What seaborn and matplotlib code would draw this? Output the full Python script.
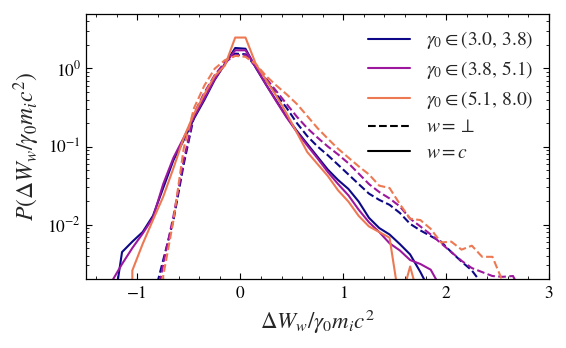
#!/usr/bin/env python3
"""Energy gain distributions for the three gamma_0 bins, perp vs c components"""

import numpy as np
import pandas as pd
import seaborn as sns
import matplotlib.pyplot as plt
from matplotlib.lines import Line2D

###########################################################
# Data
###########################################################

# histogram bin centres, Delta W_w / gamma_0 m_i c^2
bin_centers = [
    -1.35, -1.25, -1.15, -1.05, -0.95, -0.85, -0.75, -0.65, -0.55, -0.45,
    -0.35, -0.25, -0.15, -0.05, 0.05, 0.15, 0.25, 0.35, 0.45, 0.55,
    0.65, 0.75, 0.85, 0.95, 1.05, 1.15, 1.25, 1.35, 1.45, 1.55,
    1.65, 1.75, 1.85, 1.95, 2.05, 2.15, 2.25, 2.35, 2.45, 2.55,
    2.65, 2.75, 2.85,
]

gamma_bins = [r"$\gamma_0 \in (3.0,\, 3.8)$",
              r"$\gamma_0 \in (3.8,\, 5.1)$",
              r"$\gamma_0 \in (5.1,\, 8.0)$"]

# w = c (solid)
p_c_low = [
    0, 0.00059, 0.00444, 0.00604, 0.00801, 0.0129, 0.0294, 0.0671, 0.121, 0.229,
    0.395, 0.712, 1.142, 1.83, 1.79, 1.02, 0.619, 0.386, 0.240, 0.158,
    0.108, 0.0738, 0.0506, 0.0372, 0.0286, 0.0197, 0.0122, 0.00902, 0.00746, 0.00562,
    0.00414, 0.00246, 0.00136, 0, 0, 0, 0, 0, 0, 0,
    0, 0, 0,
]
p_c_mid = [
    0, 0.00186, 0.00312, 0.00500, 0.00765, 0.0122, 0.0330, 0.0721, 0.130, 0.240,
    0.414, 0.730, 1.142, 1.71, 1.71, 1.04, 0.619, 0.377, 0.235, 0.153,
    0.103, 0.0704, 0.0472, 0.0330, 0.0237, 0.0155, 0.0107, 0.00801, 0.00576, 0.00466,
    0.00351, 0.00312, 0.00264, 0.00153, 0, 0, 0, 0, 0, 0,
    0, 0, 0,
]
p_c_high = [
    0, 0, 0, 0.00258, 0.00562, 0.0114, 0.0227, 0.0530, 0.130, 0.264,
    0.466, 0.801, 1.09, 2.49, 2.49, 1.14, 0.712, 0.444, 0.264, 0.150,
    0.0850, 0.0596, 0.0419, 0.0274, 0.0197, 0.0129, 0.00945, 0.00801, 0.00679, 0.00095,
    0.00290, 0.00095, 0, 0, 0, 0, 0, 0, 0, 0,
    0, 0, 0,
]

# w = perp (dashed)
p_perp_low = [
    0, 0, 0, 0, 0, 0.00107, 0.00351, 0.0114, 0.0596, 0.246,
    0.444, 0.765, 1.20, 1.55, 1.52, 1.06, 0.712, 0.466, 0.312, 0.199,
    0.136, 0.100, 0.0773, 0.0583, 0.0439, 0.0330, 0.0249, 0.0207, 0.0179, 0.0141,
    0.0102, 0.00840, 0.00712, 0.00604, 0.00444, 0.00335, 0.00258, 0.00173, 0, 0,
    0, 0, 0,
]
p_perp_mid = [
    0, 0, 0, 0, 0, 0.00059, 0.00312, 0.0129, 0.0671, 0.264,
    0.489, 0.820, 1.20, 1.48, 1.48, 1.06, 0.747, 0.512, 0.350, 0.240,
    0.172, 0.130, 0.100, 0.0791, 0.0611, 0.0450, 0.0330, 0.0261, 0.0216, 0.0171,
    0.0119, 0.00945, 0.00746, 0.00576, 0.00444, 0.00343, 0.00277, 0.00246, 0.00219, 0.00214,
    0.00219, 0.00121, 0,
]
p_perp_high = [
    0, 0, 0, 0, 0, 0, 0.00219, 0.0114, 0.0956, 0.312,
    0.604, 0.992, 1.28, 1.45, 1.41, 1.14, 0.801, 0.604, 0.466, 0.350,
    0.246, 0.172, 0.126, 0.0935, 0.0721, 0.0557, 0.0439, 0.0315, 0.0294, 0.0183,
    0.0119, 0.0114, 0.00881, 0.00589, 0.00604, 0.00477, 0.00536, 0.00386, 0.00386, 0.00186,
    0, 0, 0,
]

colors = ["#0d0887", "#9c179e", "#ed7953"]

###########################################################
# Main
###########################################################


def main():
    series = {
        (gamma_bins[0], "c"): p_c_low,
        (gamma_bins[1], "c"): p_c_mid,
        (gamma_bins[2], "c"): p_c_high,
        (gamma_bins[0], "perp"): p_perp_low,
        (gamma_bins[1], "perp"): p_perp_mid,
        (gamma_bins[2], "perp"): p_perp_high,
    }
    frames = []
    for (gamma, w), p in series.items():
        frames.append(pd.DataFrame({"dW": bin_centers, "P": p, "gamma": gamma, "w": w}))
    df = pd.concat(frames, ignore_index=True)

    sns.set_style("ticks")
    plt.rcParams["font.family"] = ["STIXGeneral", "DejaVu Serif"]
    plt.rcParams["mathtext.fontset"] = "stix"
    plt.rcParams["axes.edgecolor"] = "black"
    plt.rcParams["xtick.color"] = "black"
    plt.rcParams["ytick.color"] = "black"

    fig, ax = plt.subplots(figsize=(5.66, 3.48), dpi=100)
    fig.subplots_adjust(left=0.152, right=0.970, top=0.960, bottom=0.198)

    palette = dict(zip(gamma_bins, colors))
    sns.lineplot(
        data=df,
        x="dW",
        y="P",
        hue="gamma",
        style="w",
        palette=palette,
        dashes={"perp": (3.7, 1.6), "c": ""},
        estimator=None,
        lw=1.5,
        legend=False,
        ax=ax,
    )

    ax.set_yscale("log")
    ax.set_xlim(-1.5, 3)
    ax.set_ylim(2e-3, 5)
    ax.set_xticks([-1, 0, 1, 2, 3])
    ax.set_xticks(np.arange(-1.4, 3.0, 0.2), minor=True)

    ax.tick_params(which="both", direction="in", top=True, right=True, labelsize=12.5)
    ax.tick_params(which="major", length=4.5, width=0.8)
    ax.tick_params(which="minor", length=2.5, width=0.6)
    ax.tick_params(axis="x", which="major", pad=5)
    for s in ax.spines.values():
        s.set_linewidth(0.9)

    ax.set_xlabel(r"$\Delta W_w/\gamma_0 m_i c^2$", fontsize=16.5)
    ax.set_ylabel(r"$P(\Delta W_w/\gamma_0 m_i c^2)$", fontsize=17)

    handles = [Line2D([], [], color=c, lw=1.5) for c in colors]
    handles += [Line2D([], [], color="black", lw=1.5, ls="--"),
                Line2D([], [], color="black", lw=1.5)]
    labels = gamma_bins + [r"$w = \perp$", r"$w = c$"]
    ax.legend(handles, labels, loc="upper right", frameon=False, fontsize=14,
              handlelength=2.2, labelspacing=0.4, borderaxespad=0.4)

    plt.savefig("out.png", dpi=100)


if __name__ == "__main__":
    main()
